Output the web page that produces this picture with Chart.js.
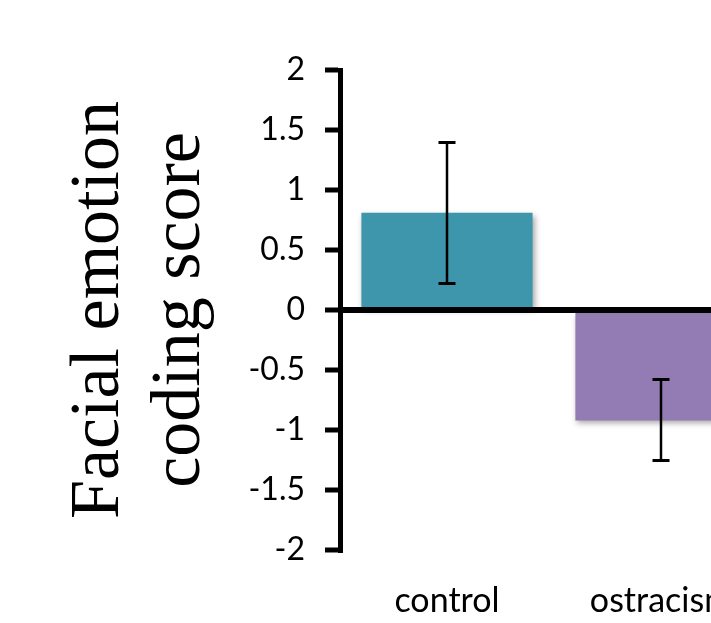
<!DOCTYPE html>
<html>
<head>
<meta charset="utf-8">
<title>Facial emotion coding score</title>
<script src="https://cdn.jsdelivr.net/npm/chart.js@4"></script>
<style>
  html, body { margin: 0; padding: 0; background: #fff; overflow: hidden; }
  #wrap { width: 711px; height: 623px; overflow: hidden; }
</style>
</head>
<body>
<div id="wrap"><canvas id="chart" width="800" height="623"></canvas></div>
<script>
// data
const categories = ['control', 'ostracism'];
const means = [0.81, -0.92];
const errLow = [0.22, -1.255];
const errHigh = [1.395, -0.58];
const barColors = ['#3d96ac', '#937bb3'];
const yTicks = [-2, -1.5, -1, -0.5, 0, 0.5, 1, 1.5, 2];

const sansFamily = 'Lato, "Open Sans", sans-serif';

// soft shadow under the bars
const barShadow = {
  id: 'barShadow',
  beforeDatasetDraw(chart) {
    const c = chart.ctx;
    c.save();
    c.shadowColor = 'rgba(0,0,0,0.35)';
    c.shadowBlur = 6;
    c.shadowOffsetX = 2;
    c.shadowOffsetY = 3;
  },
  afterDatasetDraw(chart) {
    chart.ctx.restore();
  }
};

// error bars with caps
const errorBars = {
  id: 'errorBars',
  afterDatasetsDraw(chart) {
    const c = chart.ctx;
    const y = chart.scales.y;
    const meta = chart.getDatasetMeta(0);
    c.save();
    c.strokeStyle = '#000';
    meta.data.forEach((bar, i) => {
      const top = y.getPixelForValue(errHigh[i]);
      const bot = y.getPixelForValue(errLow[i]);
      c.lineWidth = 2.5;
      c.beginPath();
      c.moveTo(bar.x, top);
      c.lineTo(bar.x, bot);
      c.stroke();
      c.lineWidth = 3;
      c.beginPath();
      c.moveTo(bar.x - 8.5, top);
      c.lineTo(bar.x + 8.5, top);
      c.moveTo(bar.x - 8.5, bot);
      c.lineTo(bar.x + 8.5, bot);
      c.stroke();
    });
    c.restore();
  }
};

new Chart(document.getElementById('chart'), {
  type: 'bar',
  data: {
    labels: categories,
    datasets: [{
      data: means,
      backgroundColor: barColors,
      borderWidth: 0,
      barPercentage: 0.8,
      categoryPercentage: 1.0
    }]
  },
  options: {
    responsive: false,
    animation: false,
    layout: { padding: { top: 70, right: 32, left: 0, bottom: 0 } },
    plugins: { legend: { display: false }, tooltip: { enabled: false } },
    scales: {
      x: {
        grid: { display: false, drawTicks: false },
        border: { display: false },
        ticks: { color: '#000', font: { family: sansFamily, size: 34 }, padding: 31, maxRotation: 0 },
        afterFit(scale) { scale.height = 73; }
      },
      y: {
        min: -2,
        max: 2,
        z: 1,
        afterBuildTicks(scale) { scale.ticks = yTicks.map(v => ({ value: v })); },
        afterFit(scale) { scale.width = 340; },
        border: { display: true, color: '#000', width: 5 },
        grid: {
          color: ctx => (ctx.tick && ctx.tick.value === 0) ? '#000' : 'rgba(0,0,0,0)',
          lineWidth: 6,
          tickColor: '#000',
          tickWidth: 5,
          tickLength: 15
        },
        ticks: {
          color: '#000',
          font: { family: sansFamily, size: 32 },
          padding: 20,
          callback: v => String(v)
        },
        title: {
          display: true,
          text: ['Facial emotion', 'coding score'],
          color: '#000',
          font: { family: '"Liberation Serif", "Times New Roman", serif', size: 70, lineHeight: '81px' },
          padding: { top: 59, bottom: 0 }
        }
      }
    }
  },
  plugins: [barShadow, errorBars]
});
</script>
</body>
</html>
